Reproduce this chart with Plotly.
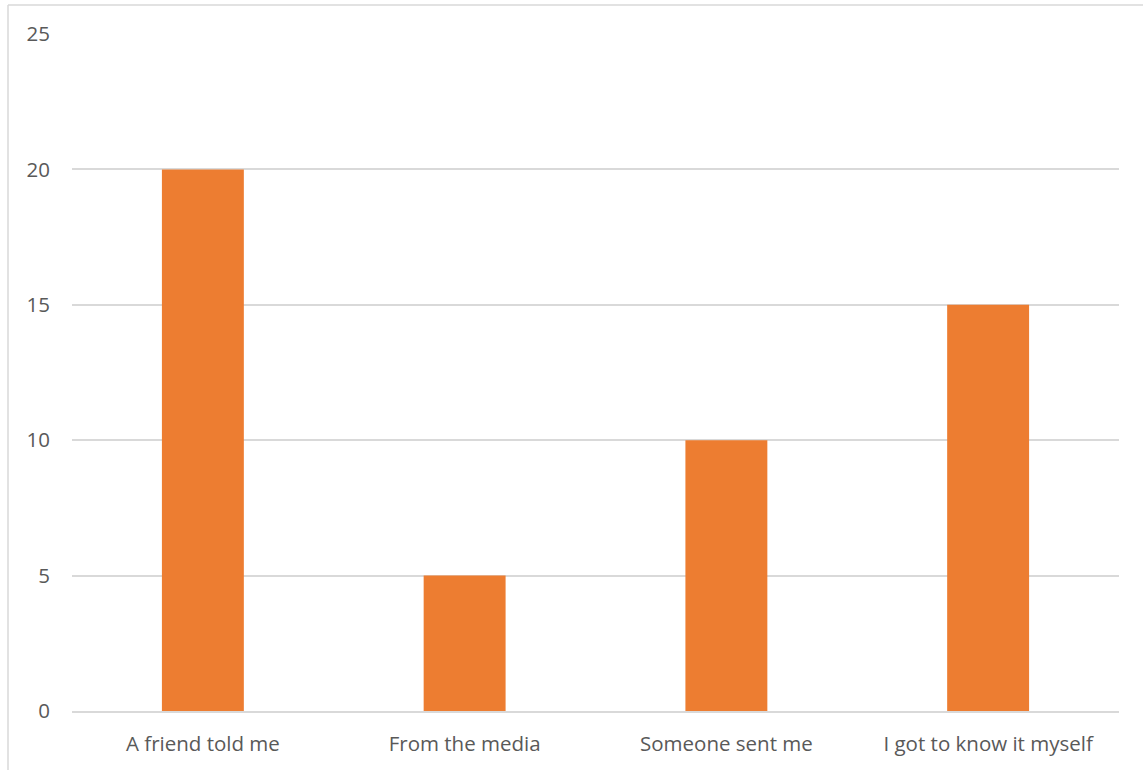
import plotly.graph_objects as go

categories = ["A friend told me", "From the media", "Someone sent me", "I got to know it myself"]
values = [20, 5, 10, 15]
y_ticks = [0, 5, 10, 15, 20, 25]

W, H = 1143, 770
L, R, T, B = 72, 24, 34, 59
pw, ph = W - L - R, H - T - B

fig = go.Figure(go.Bar(x=categories, y=values, marker_color="#ED7D31", marker_line_width=0))

font = dict(family="Open Sans, Liberation Sans, sans-serif", size=20.5, color="#595959")

fig.update_layout(
    width=W, height=H,
    margin=dict(l=L, r=R, t=T, b=B, pad=0),
    paper_bgcolor="white", plot_bgcolor="white",
    bargap=0.687,
    showlegend=False,
    font=font,
)
fig.update_yaxes(range=[0, 25], tickvals=y_ticks, showgrid=True, gridcolor="#D9D9D9", gridwidth=1.5,
                 zeroline=False, showline=False, ticks="", ticklabelstandoff=21, tickfont=font)
fig.update_xaxes(showgrid=False, showline=True, linecolor="#D9D9D9", linewidth=1.5, ticks="",
                 ticklabelstandoff=14, tickfont=font)

# outer chart border (left and top edges visible)
fig.add_shape(type="line", xref="paper", yref="paper",
              x0=(8 - L) / pw, x1=(8 - L) / pw, y0=1 + (T - 5) / ph, y1=-(B + 5) / ph,
              line=dict(color="#D9D9D9", width=1.5))
fig.add_shape(type="line", xref="paper", yref="paper",
              x0=(8 - L) / pw, x1=(W + 5 - L) / pw, y0=1 + (T - 5) / ph, y1=1 + (T - 5) / ph,
              line=dict(color="#D9D9D9", width=1.5))

fig.write_html("out.html")
